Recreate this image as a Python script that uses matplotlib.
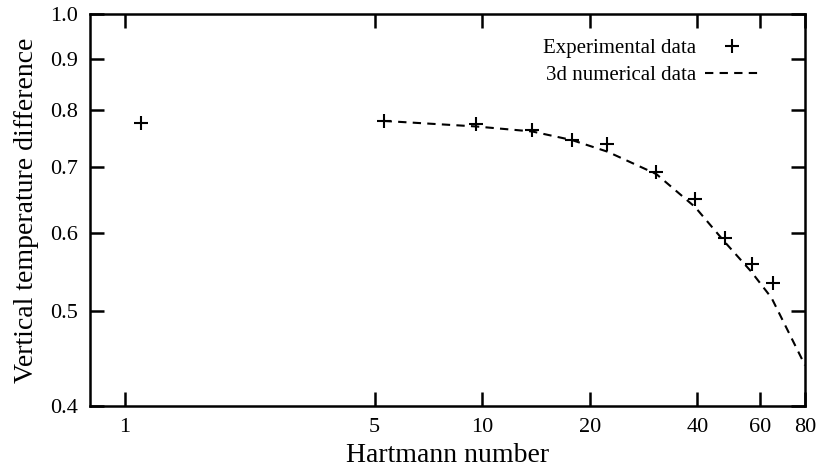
import matplotlib.pyplot as plt
import numpy as np

# experimental data (Hartmann number, vertical temperature difference)
ha_exp = [1.11, 5.32, 9.6, 13.8, 17.8, 22.4, 30.7, 39.4, 47.9, 56.8, 65.2]
dt_exp = [0.775, 0.779, 0.774, 0.763, 0.745, 0.738, 0.692, 0.649, 0.593, 0.558, 0.533]

# 3d numerical data
ha_num = [5.3, 9.6, 13.8, 17.8, 22.4, 30.7, 39.4, 47.5, 56.5, 64.5, 80.0]
dt_num = [0.779, 0.769, 0.760, 0.745, 0.725, 0.688, 0.637, 0.588, 0.548, 0.515, 0.44]

xticks = [1, 5, 10, 20, 40, 60, 80]
yticks = [0.4, 0.5, 0.6, 0.7, 0.8, 0.9, 1.0]

plt.rcParams['font.family'] = ['Liberation Serif', 'DejaVu Serif']

fig = plt.figure(figsize=(8.2, 4.7), dpi=100)
ax = fig.add_axes([0.1098, 0.1362, 0.8719, 0.8338])

ax.plot(ha_exp, dt_exp, linestyle='none', marker='+', markersize=10,
        markeredgewidth=1.5, color='black', label='Experimental data')
ax.plot(ha_num, dt_num, linestyle=(0, (4, 3)), linewidth=1.5, color='black',
        label='3d numerical data')

ax.set_xscale('log')
ax.set_yscale('log')
ax.set_xlim(0.8, 80)
ax.set_ylim(0.4, 1.0)
ax.minorticks_off()
ax.set_xticks(xticks)
ax.set_xticklabels([str(t) for t in xticks])
ax.set_yticks(yticks)
ax.set_yticklabels(['%.1f' % t for t in yticks])

ax.tick_params(direction='in', length=10, width=1.8, top=True, right=True,
               labelsize=16, colors='black', pad=9)
for s in ax.spines.values():
    s.set_linewidth(1.8)

ax.set_xlabel('Hartmann number', fontsize=20, labelpad=4)
ax.set_ylabel('Vertical temperature difference', fontsize=20, labelpad=8)

ax.legend(loc='upper right', bbox_to_anchor=(0.962, 0.985), frameon=False,
          markerfirst=False, fontsize=15, handlelength=2.6, handletextpad=0.4,
          labelspacing=0.35)

fig.savefig('out.png', dpi=100)
